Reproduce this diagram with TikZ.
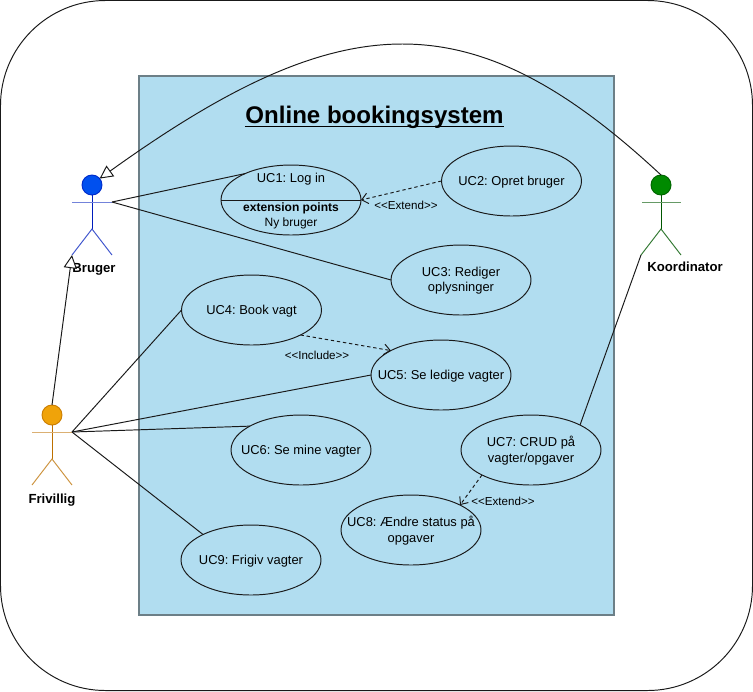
\documentclass[tikz,border=0pt]{standalone}
\usepackage{fontspec}
\setmainfont{Liberation Sans}
\usepackage{xcolor}
\usetikzlibrary{shapes.geometric, arrows.meta}
\definecolor{systemfill}{HTML}{B1DDF0}
\definecolor{systemline}{HTML}{6C7F87}
\definecolor{bluefill}{HTML}{0050EF}
\definecolor{blueline}{HTML}{001DBC}
\definecolor{orangefill}{HTML}{F0A30A}
\definecolor{orangeline}{HTML}{BD7000}
\definecolor{greenfill}{HTML}{008A00}
\definecolor{greenline}{HTML}{005700}
\frenchspacing
\tikzset{
  usecase/.style={draw=black!90, ellipse, minimum width=2.8cm, minimum height=1.4cm, inner sep=0pt, outer sep=0pt},
  plain/.style={inner sep=0pt, outer sep=0pt, yshift=-0.015cm, align=center, font=\fontsize{7.35}{8.9}\selectfont},
  smalltag/.style={inner sep=0pt, font=\fontsize{6.6}{8}\selectfont},
  actorname/.style={inner sep=0pt, font=\fontsize{7.5}{9}\selectfont\bfseries},
  head/.style={circle, minimum size=0.4cm, inner sep=0pt, outer sep=0pt},
  assoc/.style={draw=black!90, line width=0.55pt},
  generalize/.style={assoc, -{Triangle[open, fill=white, length=7.5pt, width=7.5pt]}},
  depends/.style={assoc, dash pattern=on 1.9pt off 1.6pt, -{Straight Barb[length=3.5pt, width=6pt]}},
}
\begin{document}
\begin{tikzpicture}[x=0.02cm, y=-0.02cm, line width=0.55pt]
\useasboundingbox (0,0) rectangle (753,691);

% Ramme og system
\draw[black!90, rounded corners=2.1cm] (0.5,0.5) rectangle (752.5,690.5);
\draw[systemline, fill=systemfill, line width=0.9pt] (139,76) rectangle (614,615);
\node[inner sep=0pt, font=\fontsize{13.7}{16}\selectfont\bfseries] (title) at (374.5,117.5) {Online bookingsystem};
\draw[line width=0.8pt] ([yshift=-0.06cm]title.base west) -- ([yshift=-0.06cm]title.base east);

% Bruger
\node[head, fill=bluefill, draw=blueline!70!bluefill] (brugerhead) at (92,185) {};
\coordinate (brugerarmL) at (72,202);
\coordinate (brugerarmR) at (112,202);
\coordinate (brugerhip) at (92,229);
\coordinate (brugerlegL) at (72,255);
\coordinate (brugerlegR) at (112,255);
\draw[color=blueline] (brugerhead.south) -- (brugerhip);
\draw[color=blueline!55] (brugerarmL) -- (brugerarmR);
\draw[color=blueline!75] (brugerlegL) -- (brugerhip) -- (brugerlegR);
\node[actorname] (brugername) at (94,269) {Bruger};

% Frivillig
\node[head, fill=orangefill, draw=orangeline!70!orangefill] (frivilighead) at (52,415) {};
\coordinate (frivilligarmL) at (32,432);
\coordinate (frivilligarmR) at (72,432);
\coordinate (frivillighip) at (52,459);
\coordinate (frivilliglegL) at (32,485);
\coordinate (frivilliglegR) at (72,485);
\draw[color=orangeline] (frivilighead.south) -- (frivillighip);
\draw[color=orangeline!55] (frivilligarmL) -- (frivilligarmR);
\draw[color=orangeline!75] (frivilliglegL) -- (frivillighip) -- (frivilliglegR);
\node[actorname] (frivilligname) at (52,500) {Frivillig};

% Koordinator
\node[head, fill=greenfill, draw=greenline!70!greenfill] (koordhead) at (661,185) {};
\coordinate (koordarmL) at (642,202);
\coordinate (koordarmR) at (681,202);
\coordinate (koordhip) at (661,229);
\coordinate (koordlegL) at (641,255);
\coordinate (koordlegR) at (681,255);
\draw[color=greenline] (koordhead.south) -- (koordhip);
\draw[color=greenline!60] (koordarmL) -- (koordarmR);
\draw[color=greenline!80] (koordlegL) -- (koordhip) -- (koordlegR);
\node[actorname] (koordname) at (685,267) {Koordinator};

% Use cases
\node[usecase] (uc1) at (291,200) {};
\draw[black!90] (uc1.west) -- (uc1.east);
\node[plain] (uc1title) at (291,178) {UC1: Log in};
\node[plain, font=\fontsize{6.85}{8.6}\selectfont] (uc1ext) at (291,215) {{\bfseries extension points}\\Ny bruger};
\node[usecase] (uc2) at (511.5,181) {};
\node[plain] (uc2text) at (uc2) {UC2: Opret bruger};
\node[usecase] (uc3) at (461,280) {};
\node[plain] (uc3text) at (uc3) {UC3: Rediger\\oplysninger};
\node[usecase] (uc4) at (251.5,310) {};
\node[plain] (uc4text) at (uc4) {UC4: Book vagt};
\node[usecase] (uc5) at (441,375) {};
\node[plain] (uc5text) at (uc5) {UC5: Se ledige vagter};
\node[usecase] (uc6) at (301,450) {};
\node[plain] (uc6text) at (uc6) {UC6: Se mine vagter};
\node[usecase] (uc7) at (531,450) {};
\node[plain] (uc7text) at (uc7) {UC7: CRUD på\\vagter/opgaver};
\node[usecase] (uc8) at (411,530) {};
\node[plain] (uc8text) at (uc8) {UC8: Ændre status på\\opgaver};
\node[usecase] (uc9) at (251,560) {};
\node[plain] (uc9text) at (uc9) {UC9: Frigiv vagter};

% Forbindelser
\draw[assoc] (brugerarmR) -- (uc1.150);
\draw[assoc] (brugerarmR) -- (uc3.west);
\draw[assoc] (frivilligarmR) -- (uc4.west);
\draw[assoc] (frivilligarmR) -- (uc5.west);
\draw[assoc] (frivilligarmR) -- (uc6.155);
\draw[assoc] (frivilligarmR) -- (uc9.152);
\draw[assoc] (koordlegL) -- (uc7.27);
\draw[generalize] (frivilighead.north) -- (brugerlegL);
\draw[generalize] (koordhead.north) .. controls (472,-1) and (344,3) .. (brugerhead.40);

% Afhængigheder
\draw[depends] (uc2.west) -- (uc1.east);
\draw[depends] (uc4.-27) -- (uc5.154);
\draw[depends] (uc7.207) -- (uc8.27);
\node[smalltag] (extend1) at (406,205) {<{}<Extend>{}>};
\node[smalltag] (include1) at (317,355) {<{}<Include>{}>};
\node[smalltag] (extend2) at (503,501) {<{}<Extend>{}>};
\end{tikzpicture}
\end{document}
